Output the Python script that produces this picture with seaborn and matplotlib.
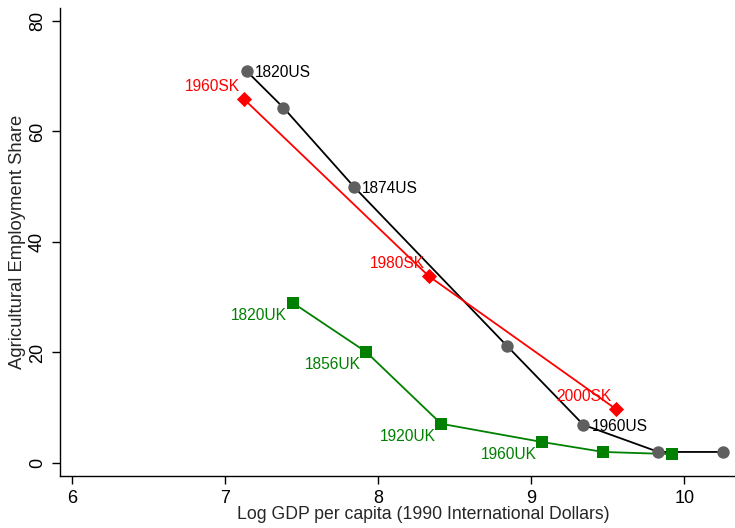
import matplotlib
matplotlib.use("Agg")
import matplotlib.pyplot as plt
import seaborn as sns
import pandas as pd

# Log GDP per capita (1990 international dollars) vs agricultural employment share
us_gdp = [7.14, 7.38, 7.84, 8.84, 9.34, 9.83, 10.25]
us_share = [70.9, 64.3, 50.0, 21.2, 6.9, 2.0, 2.0]
us_labels = ["1820US", "", "1874US", "", "1960US", "", ""]

sk_gdp = [7.12, 8.33, 9.55]
sk_share = [65.9, 33.8, 9.8]
sk_labels = ["1960SK", "1980SK", "2000SK"]

uk_gdp = [7.44, 7.92, 8.41, 9.07, 9.47, 9.92]
uk_share = [29.0, 20.1, 7.1, 3.8, 2.0, 1.6]
uk_labels = ["1820UK", "1856UK", "1920UK", "1960UK", "", ""]

x_ticks = [6, 7, 8, 9, 10]
y_ticks = [0, 20, 40, 60, 80]

sns.set_theme(style="ticks")
plt.rcParams["font.family"] = ["Liberation Sans", "DejaVu Sans"]

fig = plt.figure(figsize=(7.35, 5.28), dpi=100)
ax = fig.add_axes([0.0816, 0.0985, 0.9184, 0.8865])

us = pd.DataFrame({"gdp": us_gdp, "share": us_share})
sk = pd.DataFrame({"gdp": sk_gdp, "share": sk_share})
uk = pd.DataFrame({"gdp": uk_gdp, "share": uk_share})

sns.lineplot(data=us, x="gdp", y="share", color="black", lw=1.3, ax=ax, zorder=2)
sns.lineplot(data=sk, x="gdp", y="share", color="#ff0000", lw=1.3, ax=ax, zorder=2)
sns.lineplot(data=uk, x="gdp", y="share", color="#008000", lw=1.3, ax=ax, zorder=2)

sns.scatterplot(data=us, x="gdp", y="share", color="#5f5f5f", marker="o", s=80,
                linewidth=0, ax=ax, zorder=3)
sns.scatterplot(data=sk, x="gdp", y="share", color="#ff0000", marker="D", s=60,
                linewidth=0, ax=ax, zorder=3)
sns.scatterplot(data=uk, x="gdp", y="share", color="#008000", marker="s", s=75,
                linewidth=0, ax=ax, zorder=3)

lab_fs = 11.2
for x, y, t in zip(us_gdp, us_share, us_labels):
    if t:
        ax.annotate(t, (x, y), xytext=(6, -1), textcoords="offset points",
                    ha="left", va="center", fontsize=lab_fs, color="black")
for x, y, t in zip(sk_gdp, sk_share, sk_labels):
    ax.annotate(t, (x, y), xytext=(-3, 9), textcoords="offset points",
                ha="right", va="center", fontsize=lab_fs, color="#ff0000")
for x, y, t in zip(uk_gdp, uk_share, uk_labels):
    if t:
        ax.annotate(t, (x, y), xytext=(-4, -9), textcoords="offset points",
                    ha="right", va="center", fontsize=lab_fs, color="#008000")

ax.set_xlim(5.92, 10.33)
ax.set_ylim(-2.35, 82.35)
ax.set_xticks(x_ticks)
ax.set_yticks(y_ticks)
ax.set_xticklabels([str(v) for v in x_ticks])
ax.set_yticklabels([str(v) for v in y_ticks], rotation=90, va="center")
ax.tick_params(axis="both", direction="out", length=6, width=1, colors="black",
               labelsize=13, pad=4)
ax.set_xlabel("Log GDP per capita (1990 International Dollars)", fontsize=12.7)
ax.xaxis.set_label_coords(0.538, -0.065)
ax.set_ylabel("Agricultural Employment Share", fontsize=13.3, labelpad=2)
for side in ("top", "right"):
    ax.spines[side].set_visible(False)
for side in ("left", "bottom"):
    ax.spines[side].set_color("black")
    ax.spines[side].set_linewidth(1)

fig.savefig("out.png", dpi=100, facecolor="white")
